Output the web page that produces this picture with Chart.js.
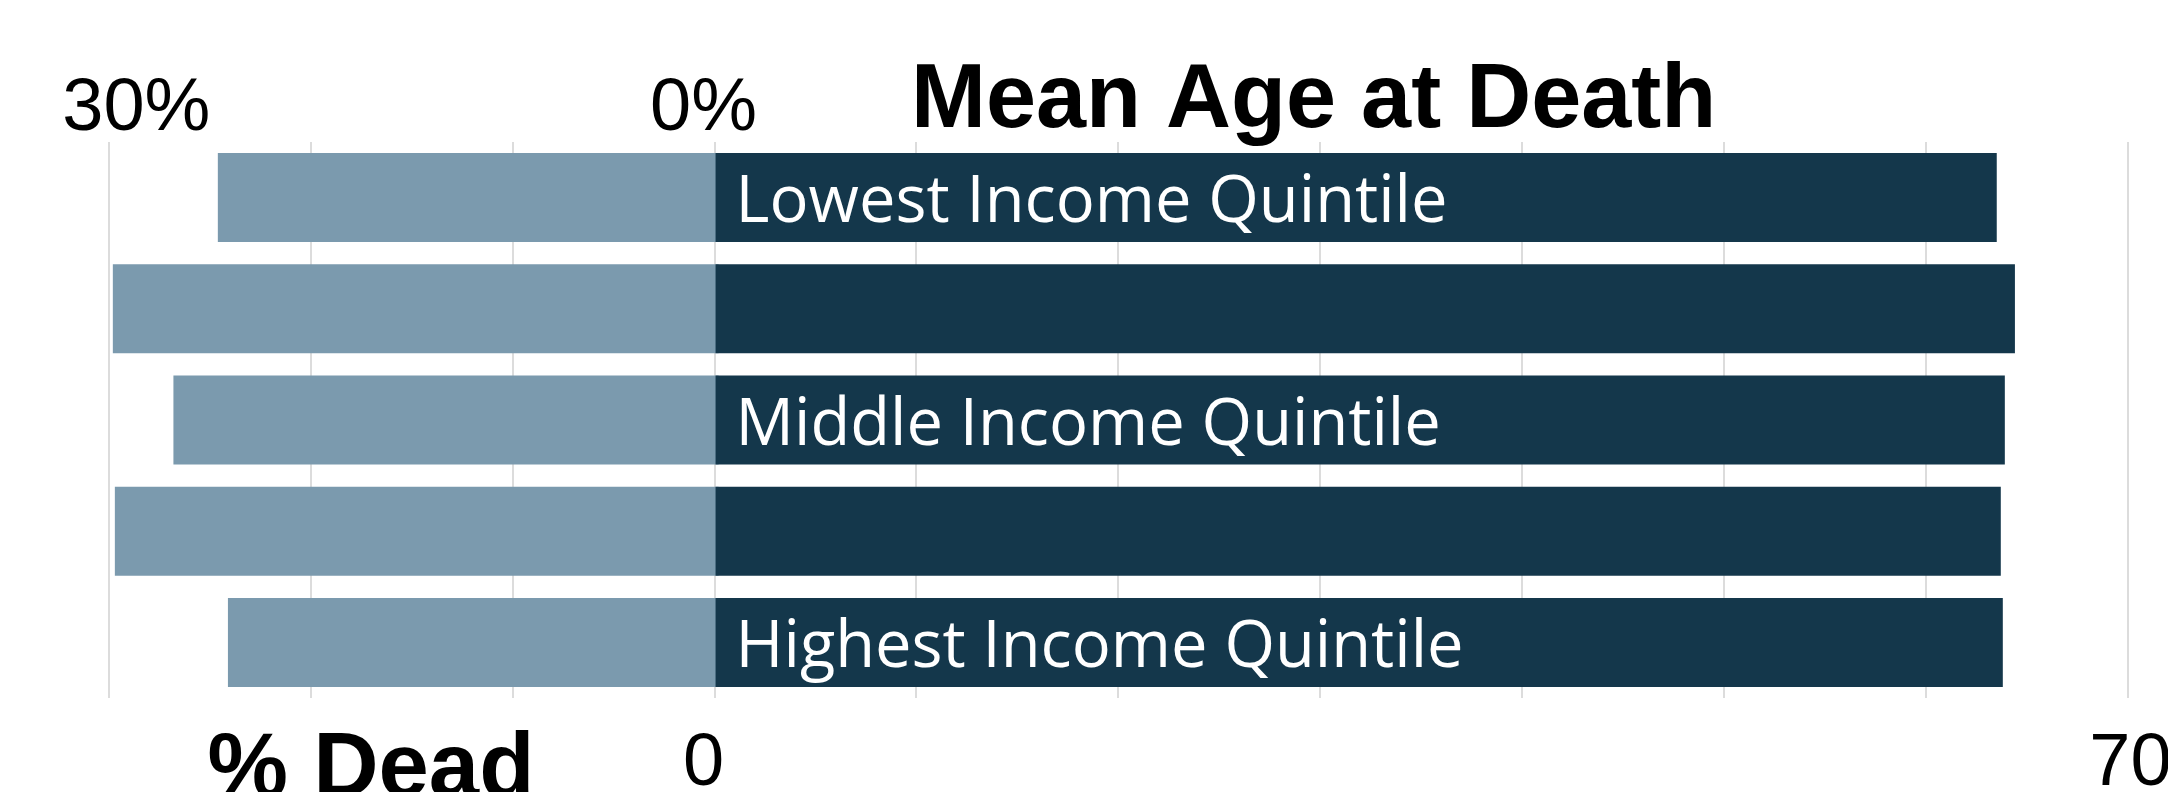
<!DOCTYPE html>
<html>
<head>
<meta charset="utf-8">
<script src="https://cdn.jsdelivr.net/npm/chart.js@4/dist/chart.umd.min.js"></script>
<style>
  html, body { margin: 0; padding: 0; background: #ffffff; }
  #wrap { width: 2168px; height: 792px; position: relative; }
  canvas { display: block; }
</style>
</head>
<body>
<div id="wrap"><canvas id="c" width="2168" height="792"></canvas></div>
<script>
// ---- data ----
const categories = ["Q1", "Q2", "Q3", "Q4", "Q5"];
const barLabels = ["Lowest Income Quintile", "", "Middle Income Quintile", "", "Highest Income Quintile"];
const pctDead = [24.6, 29.8, 26.8, 29.7, 24.1];          // % dead (left side)
const meanAgeAtDeath = [63.5, 64.4, 63.9, 63.7, 63.8];   // mean age at death (right side)
const topTickLabels = ["30%", "0%"];
const topTickValues = [-30, 0];
const bottomTickLabels = ["0", "70"];
const bottomTickValues = [0, 70];
const titleRight = "Mean Age at Death";
const titleLeft = "% Dead";

const LIGHT = "#7b9aae";
const DARK = "#14374b";

const textPlugin = {
  id: "textPlugin",
  afterDatasetsDraw(chart) {
    const ctx = chart.ctx;
    const xs = chart.scales.x;
    const meta = chart.getDatasetMeta(1);
    ctx.save();
    // inner bar labels
    ctx.fillStyle = "#ffffff";
    ctx.font = '65px "Open Sans"';
    ctx.textAlign = "left";
    ctx.textBaseline = "alphabetic";
    barLabels.forEach((t, i) => {
      if (!t) return;
      const el = meta.data[i];
      ctx.fillText(t, xs.getPixelForValue(0) + 21, el.y + 24.5);
    });
    // top tick labels
    ctx.fillStyle = "#000000";
    ctx.font = '74px "Liberation Sans", Arial, sans-serif';
    ctx.textAlign = "center";
    const topOff = [27.5, -11];
    topTickLabels.forEach((t, i) => {
      ctx.fillText(t, xs.getPixelForValue(topTickValues[i]) + topOff[i], 130);
    });
    // bottom tick labels
    const botOff = [-11, 2.5];
    bottomTickLabels.forEach((t, i) => {
      ctx.fillText(t, xs.getPixelForValue(bottomTickValues[i]) + botOff[i], 784.5);
    });
    // titles
    ctx.font = 'bold 90px "Liberation Sans", Arial, sans-serif';
    ctx.textAlign = "center";
    ctx.fillText(titleRight, 1313.6, 126.7);
    ctx.font = 'bold 90.5px "Liberation Sans", Arial, sans-serif';
    ctx.fillText(titleLeft, 371, 796);
    ctx.restore();
  }
};

new Chart(document.getElementById("c"), {
  type: "bar",
  data: {
    labels: categories,
    datasets: [
      {
        label: "% Dead",
        data: pctDead.map(v => -v),
        base: 0.2,
        order: 1,
        backgroundColor: LIGHT,
        borderWidth: 0,
        inflateAmount: 0,
        categoryPercentage: 0.8,
        barPercentage: 1.0
      },
      {
        label: "Mean Age at Death",
        data: meanAgeAtDeath,
        order: 0,
        backgroundColor: DARK,
        borderWidth: 0,
        inflateAmount: 0,
        categoryPercentage: 0.8,
        barPercentage: 1.0
      }
    ]
  },
  options: {
    indexAxis: "y",
    responsive: false,
    animation: false,
    devicePixelRatio: 1,
    layout: { padding: { left: 108.8, right: 40, top: 142, bottom: 94 } },
    plugins: { legend: { display: false }, tooltip: { enabled: false }, title: { display: false } },
    scales: {
      x: {
        stacked: false,
        min: -30,
        max: 70,
        ticks: { stepSize: 10, display: false },
        grid: { color: "#dcdcdc", lineWidth: 2, drawTicks: false },
        border: { display: false }
      },
      y: {
        stacked: true,
        display: false,
        grid: { display: false }
      }
    }
  },
  plugins: [textPlugin]
});
</script>
</body>
</html>
